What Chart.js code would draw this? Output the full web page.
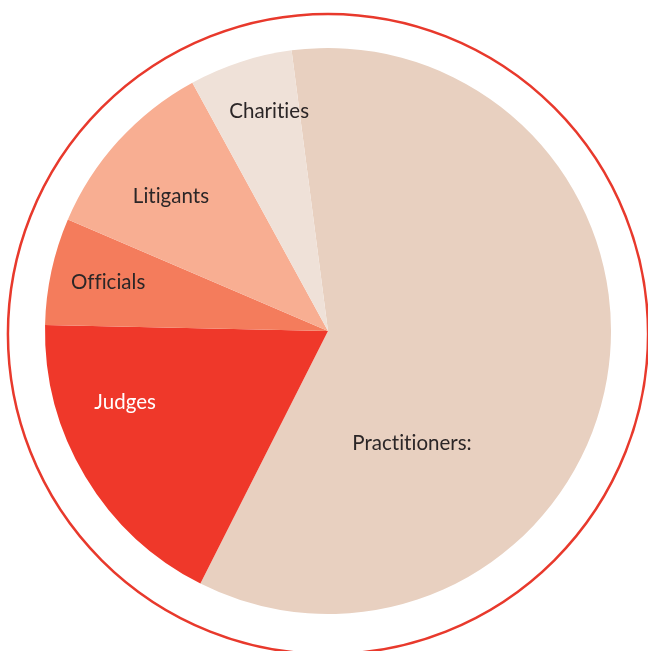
<!DOCTYPE html>
<html>
<head>
<meta charset="utf-8">
<script src="https://cdn.jsdelivr.net/npm/chart.js@4.4.1/dist/chart.umd.min.js"></script>
<style>
  html, body { margin: 0; padding: 0; background: #ffffff; }
  #wrap { width: 648px; height: 651px; position: relative; }
</style>
</head>
<body>
<div id="wrap"><canvas id="myChart" width="648" height="651"></canvas></div>
<script>
const labels = ['Practitioners:', 'Judges', 'Officials', 'Litigants', 'Charities'];
const shares = [59.5, 17.9, 6.1, 10.6, 5.9];
const sliceColors = ['#e8d0c0', '#ef382a', '#f47c5c', '#f8ae92', '#efe1d8'];
const textColors = ['#2b2627', '#ffffff', '#2b2627', '#2b2627', '#2b2627'];
// label offsets from the pie centre, as fractions of the radius
const labelDx = [0.297, -0.717, -0.777, -0.555, -0.208];
const labelDy = [0.396, 0.251, -0.170, -0.477, -0.777];

// red ring drawn round the pie
const ringPlugin = {
    id: 'ring',
    afterDraw(chart) {
        const arc = chart.getDatasetMeta(0).data[0];
        const ctx = chart.ctx;
        ctx.save();
        ctx.beginPath();
        ctx.arc(arc.x, arc.y + 3, arc.outerRadius * 1.131, 0, Math.PI * 2);
        ctx.strokeStyle = '#e8392c';
        ctx.lineWidth = 2.5;
        ctx.stroke();
        ctx.restore();
    }
};

// slice names written inside the slices
const namePlugin = {
    id: 'names',
    afterDatasetsDraw(chart) {
        const meta = chart.getDatasetMeta(0);
        const ctx = chart.ctx;
        ctx.save();
        ctx.font = '20.5px Lato';
        ctx.letterSpacing = '0.01px'; // stops the "ti" ligature
        ctx.textAlign = 'center';
        ctx.textBaseline = 'middle';
        meta.data.forEach(function (arc, i) {
            const r = arc.outerRadius;
            ctx.fillStyle = textColors[i];
            ctx.fillText(chart.data.labels[i], arc.x + labelDx[i] * r, arc.y + labelDy[i] * r);
        });
        ctx.restore();
    }
};

const data = {
    labels: labels,
    datasets: [{
        data: shares,
        backgroundColor: sliceColors,
        borderWidth: 0,
    }]
};

const config = {
    type: 'pie',
    data: data,
    options: {
        responsive: false,
        animation: false,
        rotation: -7.4,
        layout: {
            padding: { left: 45, right: 37, top: 48, bottom: 37 }
        },
        plugins: {
            legend: { display: false },
            tooltip: { enabled: false },
            title: { display: false }
        }
    },
    plugins: [ringPlugin, namePlugin]
};

var myChart = new Chart(
    document.getElementById('myChart'),
    config
);
</script>
</body>
</html>
